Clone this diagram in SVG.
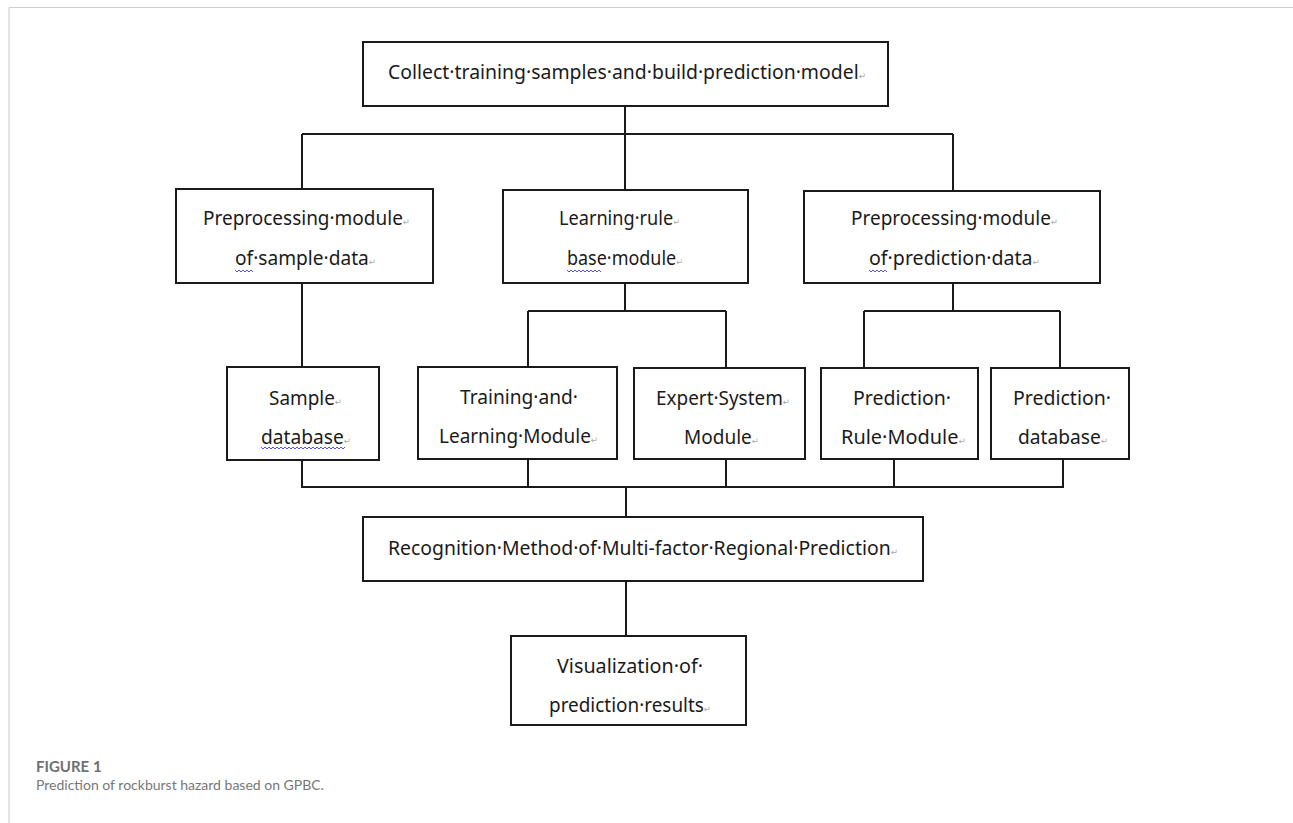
<svg xmlns="http://www.w3.org/2000/svg" width="1293" height="823" viewBox="0 0 1293 823">
<style>
.box{fill:#fff;stroke:#1a1a1a;stroke-width:2}
.ln{fill:none;stroke:#1a1a1a;stroke-width:2}
.t{font-family:"Noto Sans","Open Sans",sans-serif;font-size:20px;fill:#1a1a1a}
.pm{font-family:"DejaVu Sans",sans-serif;font-size:9px;fill:#aaa}
.wv{fill:none;stroke:#5050ff;stroke-width:1}
.cap1{font-family:Lato,"Open Sans",sans-serif;font-size:15px;font-weight:700;fill:#707070}
.cap2{font-family:Lato,"Open Sans",sans-serif;font-size:14px;fill:#777}
</style>
<rect x="0" y="0" width="1293" height="823" fill="#fff"/>
<path d="M9,7.5 H1293 M9,7.5 V823" fill="none" stroke="#d0d0d0" stroke-width="1.2"/>

<g id="connectors">
<path class="ln" d="M625,106 V134 M302,134 H953 M302,134 V189 M625,134 V190 M953,134 V191"/>
<path class="ln" d="M302,283 V367 M625,283 V311 M528,311 H726 M528,311 V367 M726,311 V368"/>
<path class="ln" d="M953,283 V311 M864,311 H1060 M864,311 V368 M1060,311 V368"/>
<path class="ln" d="M302,460 V487 M528,459 V487 M726,459 V487 M894,459 V487 M1063,459 V487 M301,487 H1064"/>
<path class="ln" d="M626,487 V517 M626,581 V636"/>
</g>

<g id="node-collect">
<rect class="box" x="363" y="42" width="525" height="64"/>
<text class="t" x="388" y="78.5" textLength="478" lengthAdjust="spacingAndGlyphs">Collect·training·samples·and·build·prediction·model<tspan class="pm">↵</tspan></text>
</g>

<g id="node-preproc-sample">
<rect class="box" x="176" y="189" width="257" height="94"/>
<text class="t" x="203" y="225" textLength="207" lengthAdjust="spacingAndGlyphs">Preprocessing·module<tspan class="pm">↵</tspan></text>
<text class="t" x="235" y="265" textLength="141" lengthAdjust="spacingAndGlyphs">of·sample·data<tspan class="pm">↵</tspan></text>
<path class="wv" d="M235,270 l2,2 l2,-2 l2,2 l2,-2 l2,2 l2,-2 l2,2 l2,-2 l2,2"/>
</g>

<g id="node-learning-rule">
<rect class="box" x="503" y="190" width="245" height="93"/>
<text class="t" x="559" y="225" textLength="121" lengthAdjust="spacingAndGlyphs">Learning·rule<tspan class="pm">↵</tspan></text>
<text class="t" x="567" y="265" textLength="116" lengthAdjust="spacingAndGlyphs">base·module<tspan class="pm">↵</tspan></text>
<path class="wv" d="M567,270 l2,2 l2,-2 l2,2 l2,-2 l2,2 l2,-2 l2,2 l2,-2 l2,2 l2,-2 l2,2 l2,-2 l2,2 l2,-2 l2,2 l2,-2 l2,2"/>
</g>

<g id="node-preproc-prediction">
<rect class="box" x="804" y="191" width="296" height="92"/>
<text class="t" x="851" y="225" textLength="207" lengthAdjust="spacingAndGlyphs">Preprocessing·module<tspan class="pm">↵</tspan></text>
<text class="t" x="869" y="265" textLength="171" lengthAdjust="spacingAndGlyphs">of·prediction·data<tspan class="pm">↵</tspan></text>
<path class="wv" d="M869,270 l2,2 l2,-2 l2,2 l2,-2 l2,2 l2,-2 l2,2 l2,-2 l2,2"/>
</g>

<g id="node-sample-db">
<rect class="box" x="227" y="367" width="152" height="93"/>
<text class="t" x="269" y="404.5" textLength="73" lengthAdjust="spacingAndGlyphs">Sample<tspan class="pm">↵</tspan></text>
<text class="t" x="261" y="443.5" textLength="90" lengthAdjust="spacingAndGlyphs">database<tspan class="pm">↵</tspan></text>
<path class="wv" d="M261,447 l2,2 l2,-2 l2,2 l2,-2 l2,2 l2,-2 l2,2 l2,-2 l2,2 l2,-2 l2,2 l2,-2 l2,2 l2,-2 l2,2 l2,-2 l2,2 l2,-2 l2,2 l2,-2 l2,2 l2,-2 l2,2 l2,-2 l2,2 l2,-2 l2,2 l2,-2 l2,2 l2,-2 l2,2 l2,-2 l2,2 l2,-2 l2,2 l2,-2 l2,2 l2,-2 l2,2 l2,-2 l2,2 l2,-2"/>
</g>

<g id="node-training">
<rect class="box" x="418" y="367" width="199" height="92"/>
<text class="t" x="460" y="404" textLength="118" lengthAdjust="spacingAndGlyphs">Training·and·</text>
<text class="t" x="439" y="443" textLength="159" lengthAdjust="spacingAndGlyphs">Learning·Module<tspan class="pm">↵</tspan></text>
</g>

<g id="node-expert">
<rect class="box" x="634" y="368" width="171" height="91"/>
<text class="t" x="656" y="404.5" textLength="134" lengthAdjust="spacingAndGlyphs">Expert·System<tspan class="pm">↵</tspan></text>
<text class="t" x="684" y="443.5" textLength="75" lengthAdjust="spacingAndGlyphs">Module<tspan class="pm">↵</tspan></text>
</g>

<g id="node-prediction-rule">
<rect class="box" x="821" y="368" width="157" height="91"/>
<text class="t" x="853" y="404.5" textLength="98" lengthAdjust="spacingAndGlyphs">Prediction·</text>
<text class="t" x="841" y="443.5" textLength="125" lengthAdjust="spacingAndGlyphs">Rule·Module<tspan class="pm">↵</tspan></text>
</g>

<g id="node-prediction-db">
<rect class="box" x="991" y="368" width="138" height="91"/>
<text class="t" x="1013" y="404.5" textLength="98" lengthAdjust="spacingAndGlyphs">Prediction·</text>
<text class="t" x="1018" y="443.5" textLength="90" lengthAdjust="spacingAndGlyphs">database<tspan class="pm">↵</tspan></text>
</g>

<g id="node-recognition">
<rect class="box" x="363" y="517" width="560" height="64"/>
<text class="t" x="388" y="555" textLength="510" lengthAdjust="spacingAndGlyphs">Recognition·Method·of·Multi-factor·Regional·Prediction<tspan class="pm">↵</tspan></text>
</g>

<g id="node-visualization">
<rect class="box" x="511" y="636" width="235" height="89"/>
<text class="t" x="557" y="672.5" textLength="146" lengthAdjust="spacingAndGlyphs">Visualization·of·</text>
<text class="t" x="549" y="711.5" textLength="162" lengthAdjust="spacingAndGlyphs">prediction·results<tspan class="pm">↵</tspan></text>
</g>

<g id="caption">
<text class="cap1" x="36" y="772">FIGURE 1</text>
<text class="cap2" x="36" y="790">Prediction of rockburst hazard based on GPBC.</text>
</g>
</svg>
